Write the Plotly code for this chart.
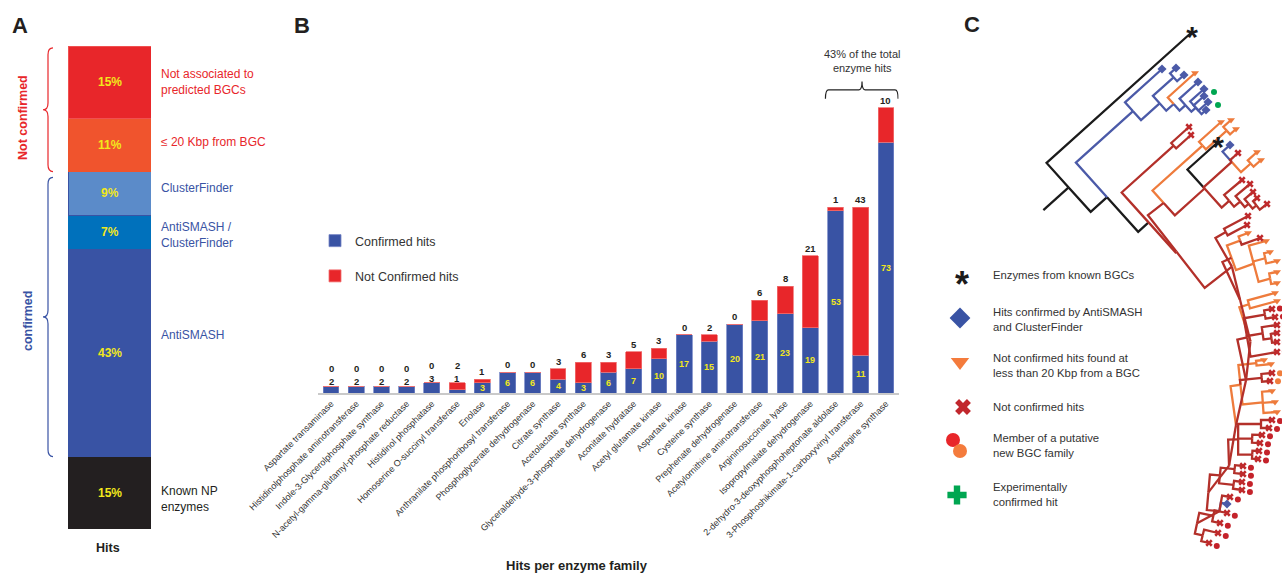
import math
import plotly.graph_objects as go

W, H = 1282, 573
FONT = "Liberation Sans, Arial, Helvetica, sans-serif"
TXT = "#231f20"

# ---------------- Panel A data ----------------
a_names = ["Known NP enzymes", "AntiSMASH", "AntiSMASH / ClusterFinder",
           "ClusterFinder", "≤ 20 Kbp from BGC", "Not associated to predicted BGCs"]
a_values = [15, 43, 7, 9, 11, 15]
a_side_labels = ["Known NP<br>enzymes", "AntiSMASH", "AntiSMASH /<br>ClusterFinder",
                 "ClusterFinder", "≤ 20 Kbp from BGC", "Not associated to<br>predicted BGCs"]
a_colors = ["#231f20", "#3953a4", "#0071bc", "#5b8bc9", "#f0542d", "#e8262a"]
a_edge_colors = ["#231f20", "#3953a4", "#0071bc", "#3953a4", "#f0542d", "#f05050"]
a_label_colors = ["#231f20", "#3953a4", "#3953a4", "#3953a4", "#e8262a", "#e8262a"]
a_label_shift = [-6, 18, -3, 5, 3, 0]

# ---------------- Panel B data ----------------
enzymes = [
    "Aspartate transaminase",
    "Histidinolphosphate aminotransferase",
    "Indole-3-Glycerolphosphate synthase",
    "N-acetyl-gamma-glutamyl-phosphate reductase",
    "Histidinol phosphatase",
    "Homoserine O-succinyl transferase",
    "Enolase",
    "Anthranilate phosphoribosyl transferase",
    "Phosphoglycerate dehydrogenase",
    "Citrate synthase",
    "Acetolactate synthase",
    "Glyceraldehyde-3-phosphate dehydrogenase",
    "Aconitate hydratase",
    "Acetyl glutamate kinase",
    "Aspartate kinase",
    "Cysteine synthase",
    "Prephenate dehydrogenase",
    "Acetylornithine aminotransferase",
    "Argininosuccinate lyase",
    "Isopropylmalate dehydrogenase",
    "2-dehydro-3-deoxyphosphoheptonate aldolase",
    "3-Phosphoshikimate-1-carboxyvinyl transferase",
    "Asparagine synthase",
]
confirmed = [2, 2, 2, 2, 3, 1, 3, 6, 6, 4, 3, 6, 7, 10, 17, 15, 20, 21, 23, 19, 53, 11, 73]
not_confirmed = [0, 0, 0, 0, 0, 2, 1, 0, 0, 3, 6, 3, 5, 3, 0, 2, 0, 6, 8, 21, 1, 43, 10]

BLUE, RED = "#3953a4", "#e8262a"
YEL = "#f2e81c"

# ---------------- Panel C data (tree) ----------------
TK, TB, TR, TO = "#1b1b1b", "#4b5aa8", "#b3302a", "#ee7b3c"


def leaf(x, y, mk, col, extra=None):
    return {"pos": (x, y), "mk": mk, "col": col, "extra": extra}


def node(th, back, col, children, anchor="min"):
    return {"th": th, "back": back, "col": col, "ch": children, "anchor": anchor}


def xd(x, y):
    return leaf(x, y, "x", TR, "dot")


def xo(x, y):
    return leaf(x, y, "x", TR, "odot")


def xx(x, y):
    return leaf(x, y, "x", TR)


def tri(x, y):
    return leaf(x, y, "tri", TO)


def dia(x, y, extra=None):
    return leaf(x, y, "dia", TB, extra)


blue_clade = node(-42, 25, TB, [
    dia(1162, 69),
    node(-42, 10, TB, [
        node(-42, 8, TB, [dia(1176, 68), dia(1184, 75)]),
        node(-42, 8, TB, [
            tri(1195, 73),
            node(-42, 6, TB, [
                dia(1198, 82),
                node(-42, 6, TB, [dia(1204, 89, "green"), dia(1204, 96),
                                  dia(1208, 102, "green"), dia(1206, 110)]),
            ]),
        ]),
    ]),
])

t1 = node(-42, 20, TR, [xx(1189, 127), xx(1191, 135)])
t2 = node(-42, 40, TR, [
    node(-42, 28, TO, [tri(1221, 122), node(-42, 8, TO, [tri(1231, 120), tri(1236, 129)])]),
    node(-42, 10, TR, [
        leaf(1218, 142, "star", TK),
        node(-42, 10, TR, [dia(1230, 145), xx(1238, 153),
                           node(-42, 10, TO, [tri(1257, 152), tri(1261, 160)])]),
        node(-40, 8, TR, [xx(1242, 180),
                          node(-40, 5, TR, [xx(1250, 184),
                                            node(-40, 5, TR, [xx(1253, 192),
                                                              node(-38, 5, TR, [xx(1257, 198), xx(1267, 204)])])])]),
    ]),
])

s11 = node(12, 8, TR, [node(12, 8, TR, [xd(1227, 513), xd(1220, 523)]),
                       node(14, 8, TR, [xd(1218, 533), xd(1209, 543)])])
s10 = node(10, 8, TR, [xd(1230, 497), dia(1227, 504), s11], "first")
g9 = node(6, 14, TR, [node(6, 8, TR, [xd(1243, 466), xd(1243, 474)]),
                      node(8, 8, TR, [xd(1242, 482), xd(1242, 490)])])
s9 = node(5, 10, TR, [g9, s10], "first")
g8 = node(0, 14, TR, [node(0, 8, TR, [xd(1272, 420), xd(1269, 428)]),
                      node(2, 8, TR, [xd(1262, 435), xd(1260, 443)]),
                      node(3, 6, TR, [xd(1259, 451), xd(1258, 459)])])
s8 = node(-2, 10, TR, [g8, s9], "first")
g7 = node(-6, 18, TO, [node(-6, 8, TO, [tri(1264, 360), tri(1271, 364)]),
                       node(-5, 8, TR, [xo(1272, 373), xo(1270, 381)]),
                       node(-4, 10, TO, [tri(1272, 391), tri(1275, 402), tri(1277, 412)])])
s7 = node(-8, 10, TR, [g7, s8], "first")
g6 = node(-10, 16, TR, [node(-10, 8, TR, [xd(1272, 309), xd(1275, 317)]),
                        node(-8, 8, TR, [xd(1277, 325), node(-8, 5, TR, [xd(1277, 333), xd(1277, 342)])]),
                        xd(1277, 352)])
s6 = node(-12, 10, TR, [g6, s7], "first")
g5 = node(-15, 28, TO, [tri(1275, 293), tri(1277, 301)])
s5 = node(-18, 10, TR, [g5, s6], "first")
g4 = node(-20, 14, TR, [node(-20, 10, TO, [tri(1248, 233), xx(1260, 238)]),
                        node(-15, 12, TO, [tri(1266, 241),
                                           node(-12, 6, TO, [tri(1270, 252), tri(1277, 261)]),
                                           node(-10, 6, TO, [tri(1277, 272), tri(1277, 283)])])])
s4 = node(-25, 10, TR, [g4, s5], "first")
g3 = node(-28, 22, TR, [xx(1248, 216), xx(1247, 225)])
s3 = node(-30, 12, TR, [g3, s4], "first")
s2 = node(-38, 20, TR, [t2, s3], "first")
s1 = node(-42, 70, TK, [t1, s2], "first")
nb = node(-42, 14, TK, [blue_clade, s1])
tree_root = node(-42, 22, TK, [leaf(1192, 32, "star", TK), nb])

c_legend_labels = ["Enzymes from known BGCs",
                   "Hits confirmed by AntiSMASH<br>and ClusterFinder",
                   "Not confirmed hits found at<br>less than 20 Kbp from a BGC",
                   "Not confirmed hits",
                   "Member of a putative<br>new BGC family",
                   "Experimentally<br>confirmed hit"]

# ---------------- helpers ----------------


def frame(th):
    t = math.radians(th)
    return (math.cos(t), math.sin(t)), (-math.sin(t), math.cos(t))


def dot(a, b):
    return a[0] * b[0] + a[1] * b[1]


def place(n):
    if "ch" not in n:
        return n["pos"]
    pts = [place(c) for c in n["ch"]]
    d, s = frame(n["th"])
    sp = [dot(p, s) for p in pts]
    dp = [dot(p, d) for p in pts]
    spread = (sp[0] + sp[-1]) / 2
    depth = (dp[0] if n["anchor"] == "first" else min(dp)) - n["back"]
    n["pos"] = (spread * s[0] + depth * d[0], spread * s[1] + depth * d[1])
    return n["pos"]


place(tree_root)
segs = {}
marks = {}


def add_seg(col, pts):
    xs, ys = segs.setdefault(col, ([], []))
    for p in pts:
        xs.append(p[0])
        ys.append(p[1])
    xs.append(None)
    ys.append(None)


def add_mark(kind, col, x, y):
    xs, ys = marks.setdefault((kind, col), ([], []))
    xs.append(x)
    ys.append(y)


def draw(n):
    d, s = frame(n["th"])
    p = n["pos"]
    for c in n["ch"]:
        q = c["pos"]
        rel = (q[0] - p[0], q[1] - p[1])
        a = dot(rel, s)
        if dot(rel, d) > 0:
            path = [p, (p[0] + a * s[0], p[1] + a * s[1]), q]
        else:
            path = [p, q]
        add_seg(c["col"], path)
        if "ch" in c:
            draw(c)
        else:
            add_mark(c["mk"], c["col"] if c["mk"] != "x" else "#bf2a2c", q[0], q[1])
            if c["extra"] in ("dot", "odot"):
                col = "#c4222a" if c["extra"] == "dot" else "#f07d3c"
                add_mark("circle", col, q[0] + 8 * d[0], q[1] + 8 * d[1] + 1)
            elif c["extra"] == "green":
                add_mark("circle", "#00a651", q[0] + 10, q[1] + 3)


draw(tree_root)
rd, _ = frame(tree_root["th"])
rp = tree_root["pos"]
add_seg(TK, [(rp[0] - 34 * rd[0], rp[1] - 34 * rd[1]), rp])

# ---------------- figure ----------------
fig = go.Figure()

# Panel A stacked bar
for name, v, col, ec in zip(a_names, a_values, a_colors, a_edge_colors):
    fig.add_trace(go.Bar(x=["Hits"], y=[v], width=[1], name=name,
                         marker=dict(color=col, line=dict(color=ec, width=1)),
                         xaxis="x", yaxis="y", showlegend=False, hoverinfo="skip"))

# Panel B stacked bars
fig.add_trace(go.Bar(x=enzymes, y=confirmed, width=0.63, name="Confirmed hits",
                     marker=dict(color=BLUE, line=dict(color="#7384c4", width=0.8)),
                     xaxis="x2", yaxis="y2", legendgroup="c", hoverinfo="skip"))
fig.add_trace(go.Bar(x=enzymes, y=not_confirmed, width=0.63, name="Not Confirmed hits",
                     marker=dict(color=RED, line=dict(color="#f07070", width=0.8)),
                     xaxis="x2", yaxis="y2", legendgroup="n", hoverinfo="skip"))

# Panel C tree lines
for col, (xs, ys) in segs.items():
    fig.add_trace(go.Scatter(x=xs, y=ys, mode="lines", line=dict(color=col, width=2.3),
                             xaxis="x3", yaxis="y3", showlegend=False, hoverinfo="skip"))

sym = {"dia": ("diamond", 7), "tri": ("triangle-down", 7), "x": ("x", 6.5), "circle": ("circle", 6)}
for (kind, col), (xs, ys) in marks.items():
    if kind == "star":
        fig.add_trace(go.Scatter(x=xs, y=[v + 7 for v in ys], mode="text", text=["<b>*</b>"] * len(xs),
                                 textfont=dict(size=30, color=TK, family=FONT),
                                 xaxis="x3", yaxis="y3", showlegend=False, hoverinfo="skip"))
    else:
        sy, sz = sym[kind]
        fig.add_trace(go.Scatter(x=xs, y=ys, mode="markers",
                                 marker=dict(symbol=sy, size=sz, color=col, line=dict(width=0)),
                                 xaxis="x3", yaxis="y3", showlegend=False, hoverinfo="skip"))

# Panel C legend symbols
leg_y = [275, 319, 365, 407, 445, 494]
fig.add_trace(go.Scatter(x=[962], y=[288], mode="text", text=["<b>*</b>"],
                         textfont=dict(size=36, color=TK, family=FONT),
                         xaxis="x3", yaxis="y3", showlegend=False, hoverinfo="skip"))
for x, y, sy, sz, col in [(960, 318, "diamond", 16, "#3953a4"),
                          (960, 362, "triangle-down", 16, "#f47b3c"),
                          (963, 407, "x", 14, "#c1272d"),
                          (953, 440, "circle", 14, "#e8262a"),
                          (960, 451, "circle", 14, "#f47b3c"),
                          (957, 495, "cross", 16, "#00a651")]:
    fig.add_trace(go.Scatter(x=[x], y=[y], mode="markers",
                             marker=dict(symbol=sy, size=sz, color=col, line=dict(width=0)),
                             xaxis="x3", yaxis="y3", showlegend=False, hoverinfo="skip"))

ann = []
# Panel A annotations
cum = 0
for v, lab, lc, sh in zip(a_values, a_side_labels, a_label_colors, a_label_shift):
    mid = cum + v / 2
    ann.append(dict(x=0, y=mid, xref="x", yref="y", text=f"<b>{v}%</b>", showarrow=False,
                    font=dict(size=12, color=YEL, family=FONT)))
    ann.append(dict(x=159 / W, y=mid, xref="paper", yref="y", text=lab, showarrow=False,
                    xanchor="left", align="left", yshift=sh,
                    font=dict(size=12, color=lc, family=FONT)))
    cum += v

# Panel B count labels
for i, (c, n) in enumerate(zip(confirmed, not_confirmed)):
    inside = c >= 4 or (c >= 3 and n > 0)
    total = c + n
    if inside:
        ann.append(dict(x=i, y=c / 2, xref="x2", yref="y2", text=f"<b>{c}</b>", showarrow=False,
                        font=dict(size=9, color=YEL, family=FONT)))
        ann.append(dict(x=i, y=total, xref="x2", yref="y2", text=f"<b>{n}</b>", showarrow=False,
                        yanchor="bottom", yshift=0, font=dict(size=9.5, color=TXT, family=FONT)))
    else:
        ann.append(dict(x=i, y=total, xref="x2", yref="y2", text=f"<b>{c}</b>", showarrow=False,
                        yanchor="bottom", yshift=-3, font=dict(size=9.5, color=TXT, family=FONT)))
        ann.append(dict(x=i, y=total, xref="x2", yref="y2", text=f"<b>{n}</b>", showarrow=False,
                        yanchor="bottom", yshift=10, font=dict(size=9.5, color=TXT, family=FONT)))

ann.append(dict(x=21.05, y=96.6, xref="x2", yref="y2", text="43% of the total<br>enzyme hits",
                showarrow=False, font=dict(size=11, color="#333333", family=FONT)))


# text in pixel space
def ptxt(x, y, text, size, color, bold=False, xanchor="center", angle=0):
    t = f"<b>{text}</b>" if bold else text
    ann.append(dict(x=x, y=y, xref="x3", yref="y3", text=t, showarrow=False, xanchor=xanchor,
                    yanchor="middle", align="left", textangle=angle,
                    font=dict(size=size, color=color, family=FONT)))


ptxt(20, 25, "A", 22, TXT, True)
ptxt(302, 25, "B", 22, TXT, True)
ptxt(972, 24, "C", 22, TXT, True)
ptxt(108, 548, "Hits", 12.5, TXT, True)
ptxt(577, 565, "Hits per enzyme family", 13, TXT, True)
ptxt(23, 118, "Not confirmed", 12.5, "#e8262a", True, angle=-90)
ptxt(28, 321, "confirmed", 12.5, "#3953a4", True, angle=-90)
for y, lab in zip(leg_y, c_legend_labels):
    ptxt(991, y, lab, 11.3, "#333333", xanchor="left")

# shapes: braces in panel A and bracket in panel B
shapes = []


def brace(y_top, y_bot, color):
    xt, xb, xp = 53 / W, 48 / W, 43 / W
    ym = (y_top + y_bot) / 2
    dd = 1.4
    path = (f"M {xt},{y_top} Q {xb},{y_top} {xb},{y_top - dd} L {xb},{ym + dd} "
            f"Q {xb},{ym} {xp},{ym} Q {xb},{ym} {xb},{ym - dd} L {xb},{y_bot + dd} "
            f"Q {xb},{y_bot} {xt},{y_bot}")
    shapes.append(dict(type="path", path=path, xref="paper", yref="y",
                       line=dict(color=color, width=1.2)))


tot_a = sum(a_values)
nc_start = tot_a - a_values[-1] - a_values[-2]
brace(tot_a - 0.4, nc_start, "#e8262a")
brace(nc_start - 1.2, a_values[0], "#3953a4")

x0, x1, xm = 19.6, 22.48, 21.05
yb, yh, yt = 85.6, 88.2, 90.6
shapes.append(dict(type="path", xref="x2", yref="y2", line=dict(color="#222222", width=1.2),
                   path=(f"M {x0},{yb} Q {x0},{yh} {x0 + 0.12},{yh} L {xm - 0.12},{yh} "
                         f"Q {xm},{yh} {xm},{yt} Q {xm},{yh} {xm + 0.12},{yh} "
                         f"L {x1 - 0.12},{yh} Q {x1},{yh} {x1},{yb}")))

fig.update_layout(
    template="none",
    width=W, height=H, margin=dict(l=0, r=0, t=0, b=0, autoexpand=False),
    paper_bgcolor="white", plot_bgcolor="rgba(0,0,0,0)",
    barmode="stack", hovermode=False,
    font=dict(family=FONT, color=TXT),
    xaxis=dict(domain=[68 / W, 151 / W], range=[-0.5, 0.5], visible=False, anchor="y", automargin=False),
    yaxis=dict(domain=[(H - 529) / H, (H - 46) / H], range=[0, 100], visible=False, anchor="x",
               automargin=False),
    xaxis2=dict(domain=[318.4 / W, 898.6 / W], range=[-0.5, 22.5], anchor="y2", automargin=False,
                showline=True, linecolor="#c9c9c9", linewidth=2, ticks="", tickangle=-45,
                tickfont=dict(size=9, color="#333333", family=FONT), showgrid=False, zeroline=False),
    yaxis2=dict(domain=[(H - 393) / H, (H - 43) / H], range=[0, 101.83], visible=False, anchor="x2",
                automargin=False),
    xaxis3=dict(domain=[0, 1], range=[0, W], visible=False, anchor="y3", automargin=False),
    yaxis3=dict(domain=[0, 1], range=[H, 0], visible=False, anchor="x3", automargin=False),
    legend=dict(x=315 / W, y=(H - 226) / H, xanchor="left", yanchor="top",
                traceorder="grouped", tracegroupgap=16, bgcolor="rgba(0,0,0,0)",
                font=dict(size=12.5, color="#333333", family=FONT)),
    annotations=ann, shapes=shapes,
)

fig.write_html("out.html", config={"displayModeBar": False},
               post_script="document.body.style.margin='0px';")
